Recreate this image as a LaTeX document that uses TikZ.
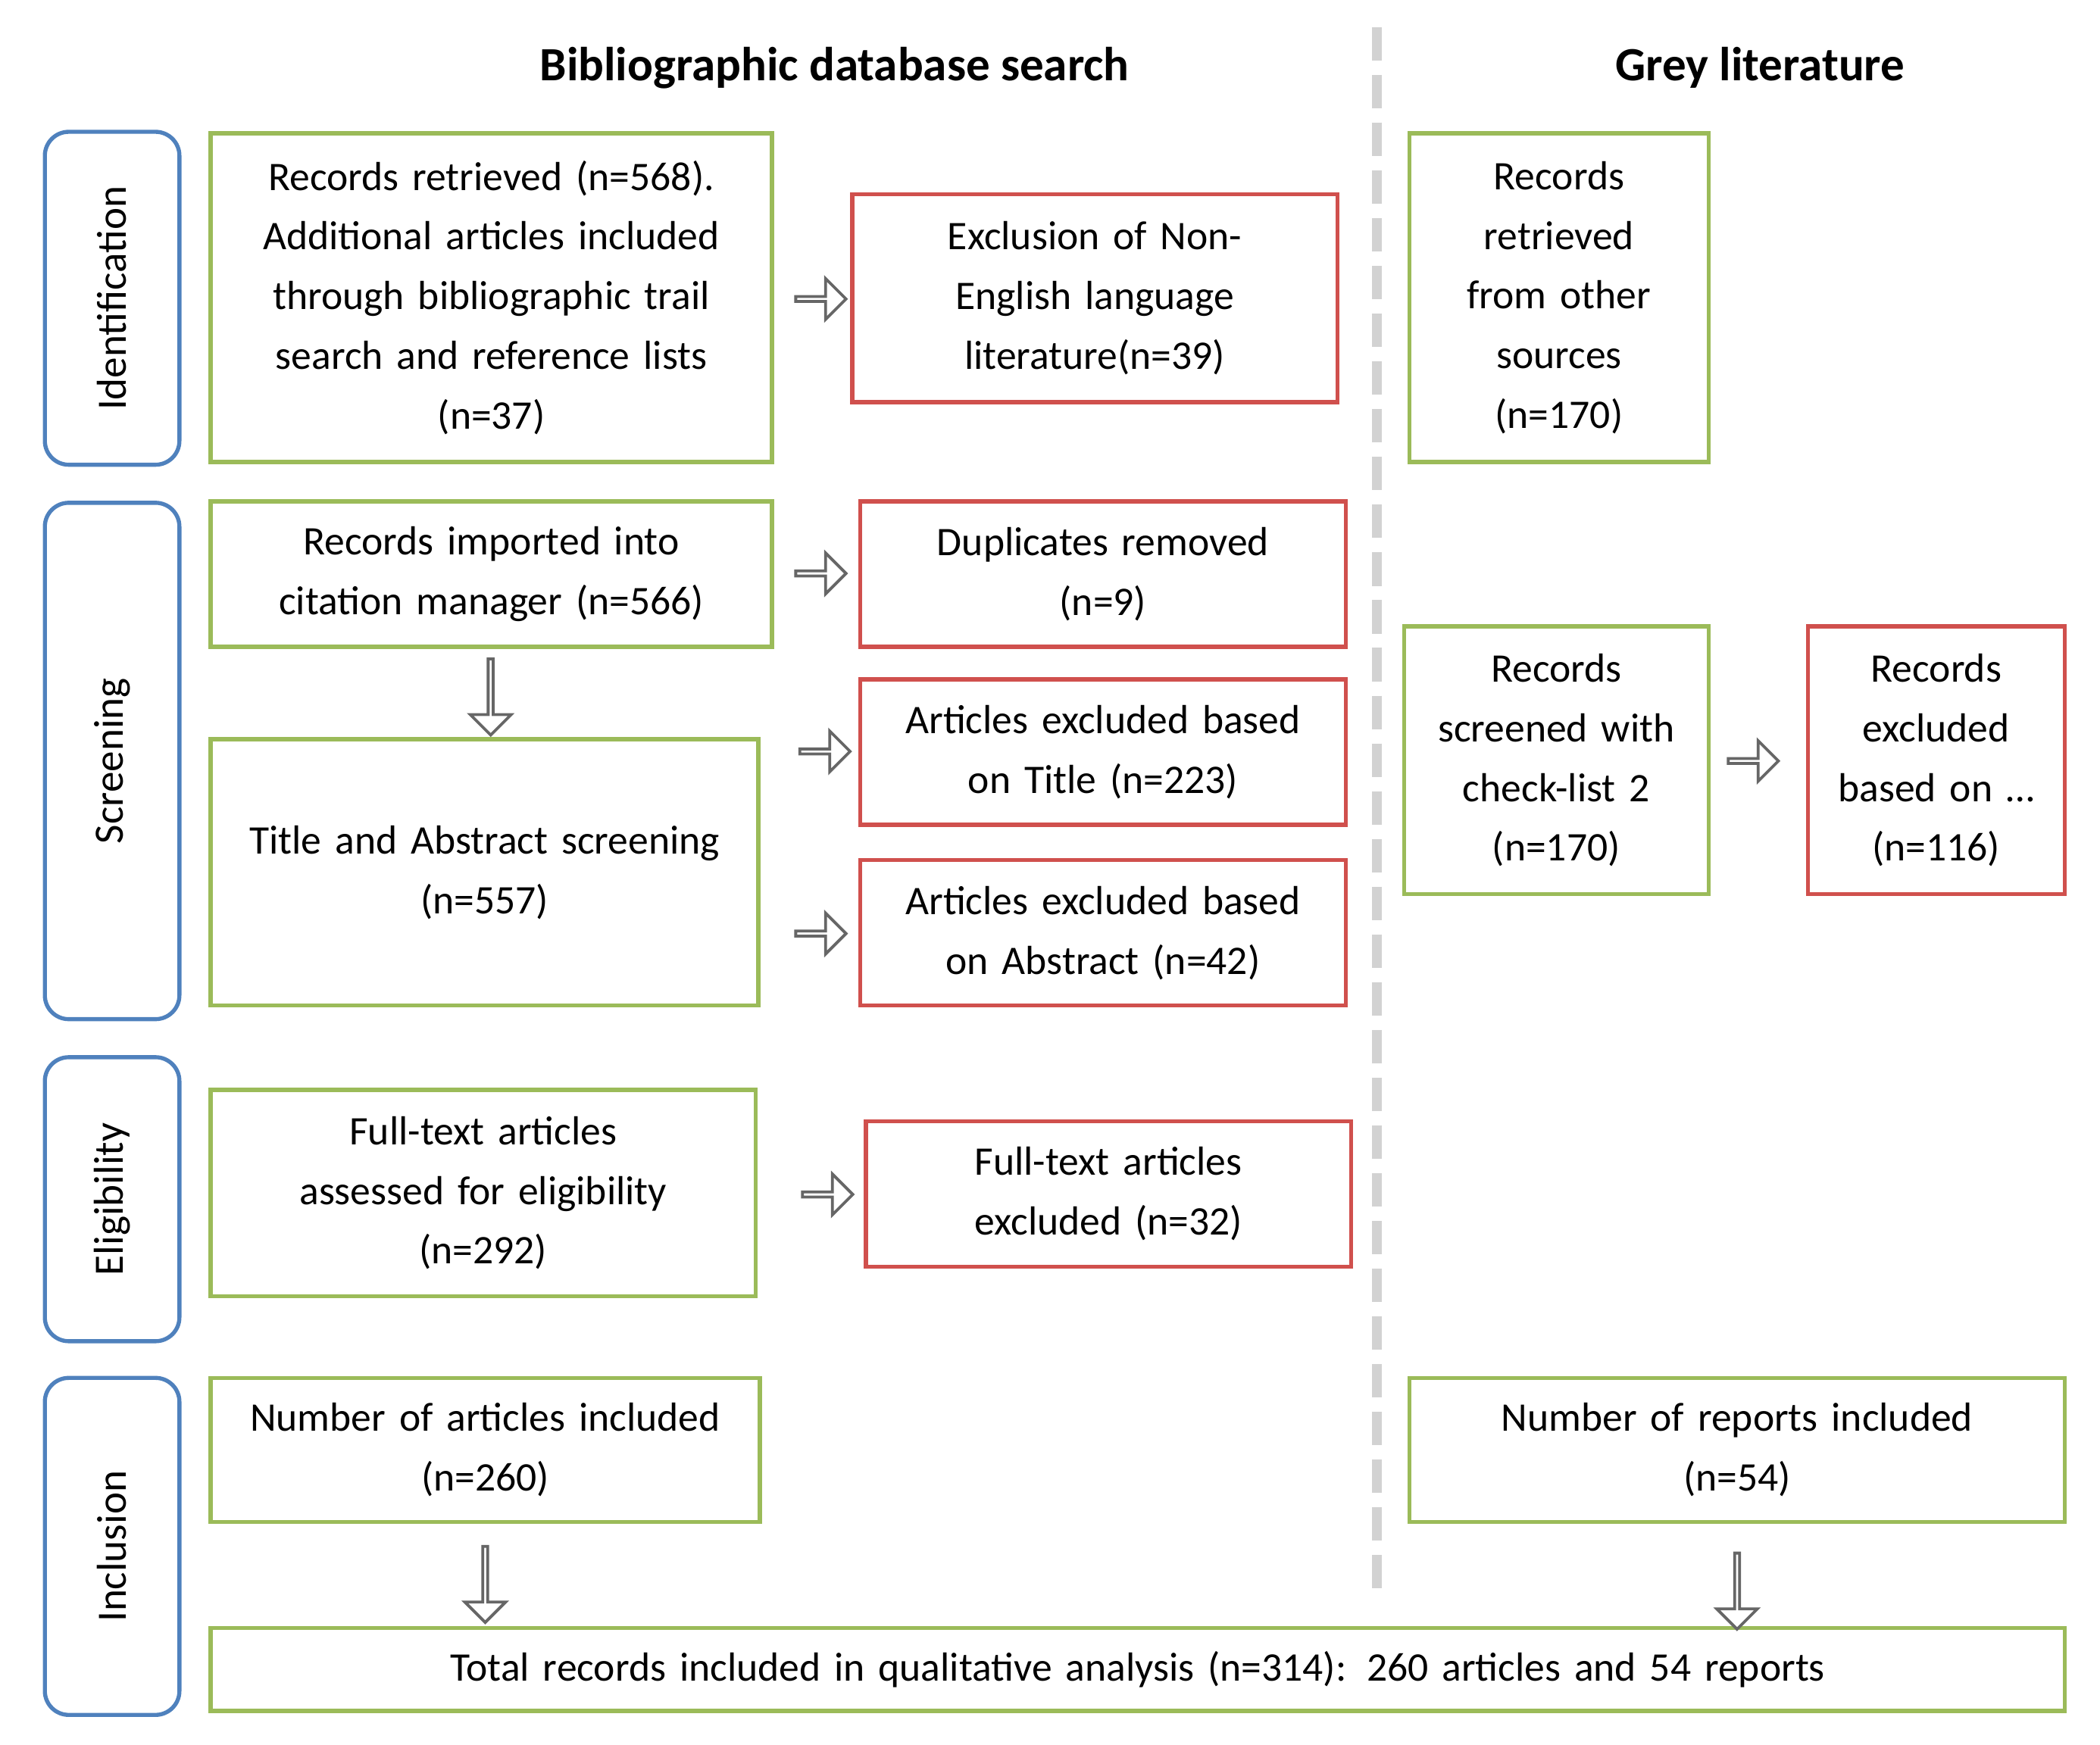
\documentclass[tikz,border=0pt]{standalone}
\usepackage{fontspec}
\setmainfont{Carlito}
\usetikzlibrary{shapes.arrows}
\definecolor{gr}{HTML}{9BBB59}
\definecolor{rd}{HTML}{D0504D}
\definecolor{bl}{HTML}{4F81BD}
\newcommand\bx[7]{\pgfmathsetmacro\bw{(#4-#2)*0.02}\pgfmathsetmacro\bh{(#5-#3)*0.02}\pgfmathsetmacro\tw{\bw-0.2}%
\node[#6,minimum width=\bw cm,minimum height=\bh cm,text width=\tw cm] (#1) at ({(#2+#4)/2},{(#3+#5)/2}) {#7};}
\begin{document}
\begin{tikzpicture}[x=0.02cm,y=-0.02cm,
 box/.style={draw,line width=1.7pt,inner sep=0pt,align=center,font=\fontsize{17}{25}\selectfont},
 g/.style={box,draw=gr}, r/.style={box,draw=rd},
 lab/.style={draw=bl,line width=1.7pt,rounded corners=10pt,inner sep=0pt},
 ra/.style={single arrow,draw=gray!80!black,fill=white,line width=1.2pt,inner sep=0pt,minimum width=0.6cm,single arrow head extend=0.15cm,minimum height=0.74cm},
 da/.style={ra,minimum height=1.12cm,shape border rotate=270},
 hd/.style={font=\fontsize{20}{24}\selectfont\bfseries}]
\useasboundingbox (0,0) rectangle (1545,1284);
\node[hd] (h1) at (614,50) {Bibliographic database search};
\node[hd] (h2) at (1295,50) {Grey literature};
\coordinate (s1) at (1013,20); \coordinate (s2) at (1013,1170);
\draw[gray!35,line width=4pt,dash pattern=on 14pt off 6pt] (s1) -- (s2);
\bx{l1}{33}{97}{132}{342}{lab}{}
\bx{l2}{33}{370}{132}{750}{lab}{}
\bx{l3}{33}{778}{132}{987}{lab}{}
\bx{l4}{33}{1014}{132}{1262}{lab}{}
\foreach \n/\t in {l1/Identification,l2/Screening,l3/Eligibility,l4/Inclusion}
  \node[rotate=90,font=\fontsize{17.5}{22}\selectfont] at (\n) {\t};
\bx{g1}{155}{98}{568}{340}{g}{Records retrieved (n=568).\\Additional articles included\\through bibliographic trail\\search and reference lists\\(n=37)}
\bx{g2}{155}{369}{568}{476}{g}{Records imported into\\citation manager (n=566)}
\bx{g3}{155}{544}{558}{740}{g}{Title and Abstract screening\\(n=557)}
\bx{g4}{155}{802}{556}{954}{g}{Full-text articles\\assessed for eligibility\\(n=292)}
\bx{g5}{155}{1014}{559}{1120}{g}{Number of articles included\\(n=260)}
\bx{g6}{155}{1198}{1519}{1259}{g}{Total records included in qualitative analysis (n=314): 260 articles and 54 reports}
\bx{g7}{1037}{98}{1257}{340}{g}{Records\\retrieved\\from other\\sources\\(n=170)}
\bx{g8}{1033}{461}{1257}{658}{g}{Records\\screened with\\check-list 2\\(n=170)}
\bx{g9}{1037}{1014}{1519}{1120}{g}{Number of reports included\\(n=54)}
\bx{r1}{627}{143}{984}{296}{r}{Exclusion of Non-\\English language\\literature(n=39)}
\bx{r2}{633}{369}{990}{476}{r}{Duplicates removed\\(n=9)}
\bx{r3}{633}{500}{990}{607}{r}{Articles excluded based\\on Title (n=223)}
\bx{r4}{633}{633}{990}{740}{r}{Articles excluded based\\on Abstract (n=42)}
\bx{r5}{637}{825}{994}{932}{r}{Full-text articles\\excluded (n=32)}
\bx{r6}{1330}{461}{1519}{658}{r}{Records\\excluded\\based on \dots\\(n=116)}
\node[ra] (a1) at (603,220) {};
\node[ra] (a2) at (603,422) {};
\node[ra] (a3) at (606,553) {};
\node[ra] (a4) at (603,687) {};
\node[ra] (a5) at (608,879) {};
\node[ra] (a6) at (1289,560) {};
\node[da] (d1) at (361,512) {};
\node[da] (d2) at (357,1165) {};
\node[da] (d3) at (1278,1170) {};
\end{tikzpicture}
\end{document}
